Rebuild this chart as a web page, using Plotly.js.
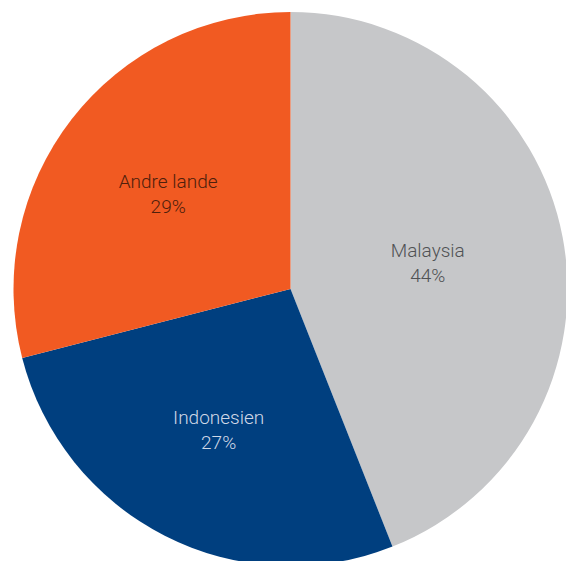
<!DOCTYPE html>
<html>
<head>
<meta charset="utf-8">
<script src="https://cdn.plot.ly/plotly-3.0.1.min.js"></script>
<style>html,body{margin:0;padding:0;overflow:hidden;background:#fff;}</style>
</head>
<body>
<div id="chart"></div>
<script>
const labels = ["Malaysia", "Indonesien", "Andre lande"];
const values = [44, 27, 29];
const colors = ["#C6C7C9", "#003F7F", "#F15A22"];
const textColors = ["#505254", "#D0D8E6", "#4E200C"];

Plotly.newPlot("chart", [{
  type: "pie",
  labels: labels,
  values: values,
  sort: false,
  direction: "clockwise",
  rotation: 0,
  marker: {colors: colors, line: {width: 0}},
  texttemplate: "%{label}<br>%{value}%",
  textinfo: "text",
  textposition: "inside",
  insidetextorientation: "horizontal",
  textfont: {family: "Roboto", size: 19, color: textColors, weight: 300},
  hoverinfo: "none"
}], {
  width: 568, height: 566,
  margin: {l: 13, r: 0, t: 12, b: 0},
  showlegend: false,
  paper_bgcolor: "#fff"
}, {displayModeBar: false, staticPlot: true});
</script>
</body>
</html>
